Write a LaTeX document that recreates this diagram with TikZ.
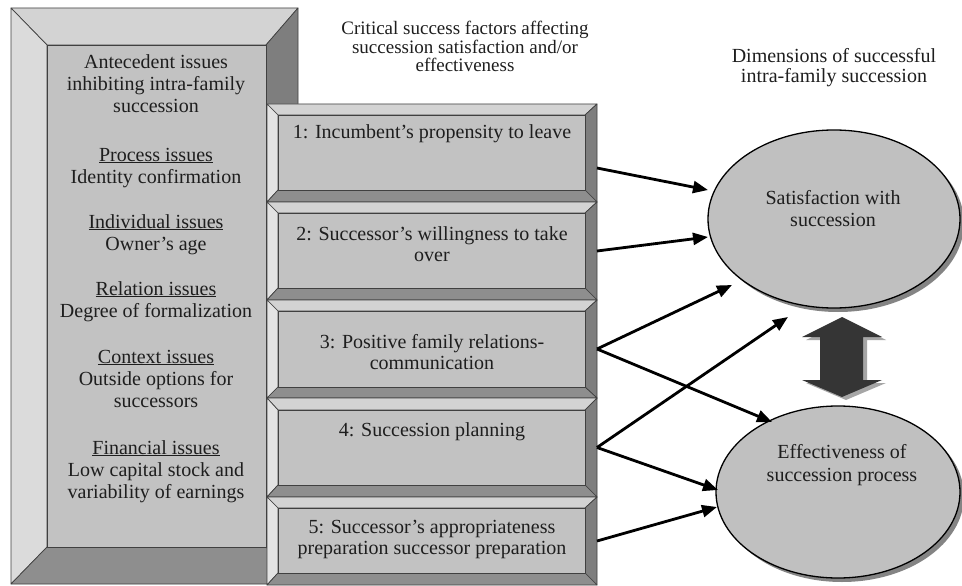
\documentclass[tikz,border=0pt]{standalone}
\usepackage{fontspec}
\setmainfont{Liberation Serif}
\usetikzlibrary{arrows.meta,shapes.geometric,shadows,calc}
\definecolor{face}{HTML}{C2C2C2}
\definecolor{bvtop}{HTML}{D3D3D3}
\definecolor{bvdark}{HTML}{7E7E7E}
\definecolor{bvbot}{HTML}{8E8E8E}
\definecolor{elfill}{HTML}{C0C0C0}
\definecolor{dblarr}{HTML}{353535}
\definecolor{txtc}{HTML}{1E1E1E}
\newcommand\fs[1]{\fontsize{20}{#1}\selectfont\lineskiplimit=-100pt\relax}
\newcommand\fsz[2]{\fontsize{#1}{#2}\selectfont\lineskiplimit=-100pt\relax}
\newcommand\R{\rule{0pt}{15pt}}
% outer (#1,#2)-(#3,#4), inner (#5,#6)-(#7,#8), left bevel colour #9
\newcommand\bvbox[9]{%
  \filldraw[bvline,fill=bvtop] (#1,#2) -- (#3,#2) -- (#7,#6) -- (#5,#6) -- cycle;
  \filldraw[bvline,fill=#9] (#1,#2) -- (#5,#6) -- (#5,#8) -- (#1,#4) -- cycle;
  \filldraw[bvline,fill=bvdark] (#3,#2) -- (#3,#4) -- (#7,#8) -- (#7,#6) -- cycle;
  \filldraw[bvline,fill=bvbot] (#1,#4) -- (#5,#8) -- (#7,#8) -- (#3,#4) -- cycle;
  \filldraw[bvline,fill=face] (#5,#6) rectangle (#7,#8);
}
\tikzset{
  bvline/.style={draw=black!75,line width=0.7pt,line join=round},
  slot/.style={minimum width=330pt,inner sep=0pt,outer sep=0pt},
  txt/.style={inner sep=0pt,outer sep=0pt,align=center,anchor=north,text=txtc,font=\fs{22}},
  ell/.style={ellipse,draw=black,line width=1.3pt,fill=elfill,inner sep=0pt,outer sep=0pt,
    drop shadow={shadow xshift=4pt,shadow yshift=-4pt,fill=black!60,opacity=0.8}},
  arr/.style={line width=2.8pt,-{Triangle[length=15pt,width=12pt]}},
}
\begin{document}
\begin{tikzpicture}[x=1pt,y=-1pt]
\useasboundingbox (0,0) rectangle (962,586);
\fill[white] (0,0) rectangle (962,586);

% left big bevelled panel
\bvbox{11}{8}{298}{584}{47}{45}{266}{547}{black!14}

% stack of five bevelled boxes
\bvbox{267}{104}{597}{202}{278}{115}{585}{190}{black!11}
\bvbox{267}{202}{597}{300}{278}{213}{585}{288}{black!11}
\bvbox{267}{300}{597}{398}{278}{311}{585}{387}{black!11}
\bvbox{267}{398}{597}{497}{278}{410}{585}{485}{black!11}
\bvbox{267}{497}{597}{585}{278}{508}{585}{573}{black!11}

\node[slot,minimum height=98pt] (b1) at (432,153) {};
\node[slot,minimum height=98pt] (b2) at (432,251) {};
\node[slot,minimum height=98pt] (b3) at (432,349) {};
\node[slot,minimum height=99pt] (b4) at (432,447.5) {};
\node[slot,minimum height=88pt] (b5) at (432,541) {};

% left panel texts
\node[txt] (l0) at (156,54) {\R Antecedent issues\\inhibiting intra-family\\succession};
\node[txt] (l1) at (156,146) {\R\underline{Process issues}\\Identity confirmation};
\node[txt] (l2) at (156,213) {\R\underline{Individual issues}\\Owner’s age};
\node[txt] (l3) at (156,280) {\R\underline{Relation issues}\\Degree of formalization};
\node[txt] (l4) at (156,348) {\R\underline{Context issues}\\Outside options for\\successors};
\node[txt] (l5) at (156,439) {\R\underline{Financial issues}\\Low capital stock and\\variability of earnings};

% box texts
\node[txt,font=\fs{21}] (t1) at (432,124) {\R 1: Incumbent’s propensity to leave};
\node[txt,font=\fs{21}] (t2) at (432,225) {\R 2: Successor’s willingness to take\\over};
\node[txt,font=\fs{21}] (t3) at (432,333) {\R 3: Positive family relations-\\communication};
\node[txt,font=\fs{21}] (t4) at (432,421) {\R 4: Succession planning};
\node[txt,font=\fs{21}] (t5) at (432,518) {\R 5: Successor’s appropriateness\\preparation successor preparation};

% headers
\node[txt,font=\fsz{19}{18.5}] (h1) at (465,20) {\R Critical success factors affecting\\succession satisfaction and/or\\effectiveness};
\node[txt,font=\fs{20}] (h2) at (834,47) {\R Dimensions of successful\\intra-family succession};

% ellipses
\node[ell,minimum width=252pt,minimum height=178pt] (sat) at (834,219) {};
\node[ell,minimum width=244pt,minimum height=172pt] (eff) at (838,492) {};
\node[txt] (st) at (833,189) {\R Satisfaction with\\succession};
\node[txt,font=\fs{23}] (et) at (842,443) {\R Effectiveness of\\succession process};

% double block arrow between the ellipses
\fill[black!35,shift={(4,3)}] (842,317) -- (882,337) -- (863,337) -- (863,380) -- (882,380) -- (842,397) -- (802,380) -- (820,380) -- (820,337) -- (802,337) -- cycle;
\fill[dblarr] (842,317) -- (882,337) -- (863,337) -- (863,380) -- (882,380) -- (842,397) -- (802,380) -- (820,380) -- (820,337) -- (802,337) -- cycle;

% connectors
\draw[arr] ([yshift=-15pt]b1.east) -- ($(sat)+(-126,-29)$);
\draw[arr] (b2.east) -- ($(sat)+(-126,18)$);
\draw[arr] (b3.east) -- ($(sat)+(-102,66)$);
\draw[arr] (b3.east) -- ($(eff)+(-66,-70)$);
\draw[arr] (b4.east) -- ($(sat)+(-46,98)$);
\draw[arr] (b4.east) -- ($(eff)+(-120,-2)$);
\draw[arr] (b5.east) -- ($(eff)+(-121,15)$);
\end{tikzpicture}
\end{document}
